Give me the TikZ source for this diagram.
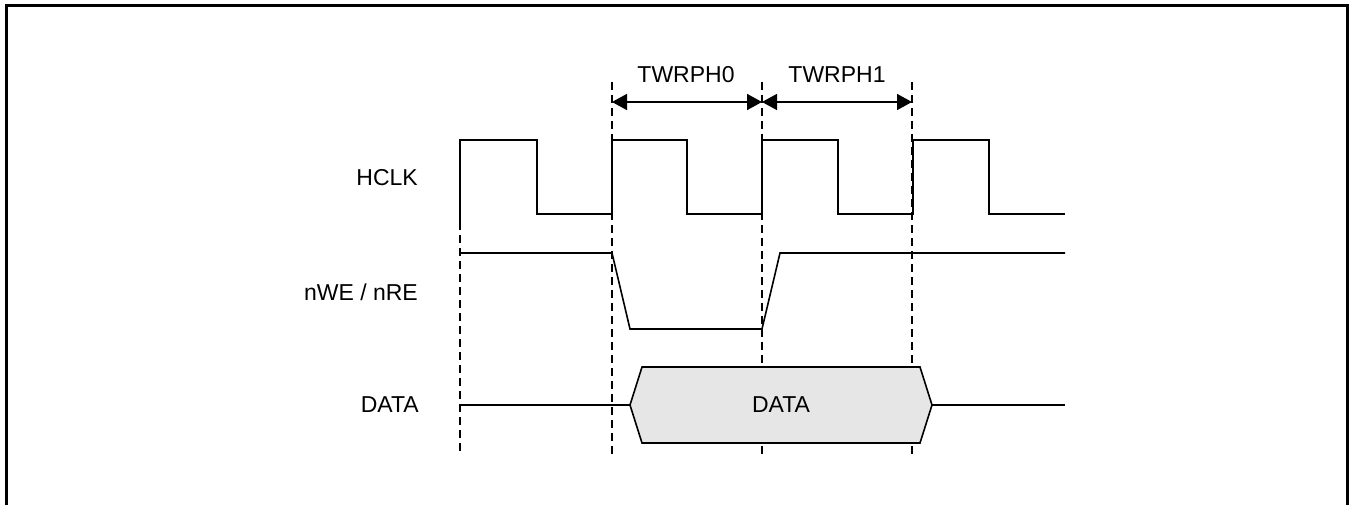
\documentclass[tikz,border=0pt]{standalone}
\usepackage{fontspec}
\setmainfont{Liberation Sans}
\usetikzlibrary{arrows.meta}
\begin{document}
\begin{tikzpicture}[x=1pt,y=-1pt,
  sig/.style={line width=1.6pt, line join=miter},
  guide/.style={line width=1.6pt, dash pattern=on 8pt off 5pt},
  dim/.style={line width=1.6pt, {Triangle[length=15pt,width=16pt]}-{Triangle[length=15pt,width=16pt]}},
  lbl/.style={font=\fontsize{23}{26}\selectfont, inner sep=0pt}]
\useasboundingbox (0,0) rectangle (1351,505);
\draw[line width=3pt] (6,506) -- (6,6) -- (1347.5,6) -- (1347.5,506);
% guides
\coordinate (g0t) at (460,222); \coordinate (g0b) at (460,455);
\coordinate (g1t) at (612,82);  \coordinate (g1b) at (612,455);
\coordinate (g2t) at (762,82);  \coordinate (g2b) at (762,455);
\coordinate (g3t) at (912,82);  \coordinate (g3b) at (912,455);
\draw[guide] (g0t) -- (g0b);
\draw[guide] (g1t) -- (g1b);
\draw[guide] (g2t) -- (g2b);
\draw[guide] (g3t) -- (g3b);
% dimension arrows
\coordinate (a1) at (612,102); \coordinate (a2) at (762,102); \coordinate (a3) at (912,102);
\draw[dim] (a1) -- (a2);
\draw[dim] (a2) -- (a3);
\node[lbl] (t0) at (686,75) {TWRPH0};
\node[lbl] (t1) at (837,75) {TWRPH1};
% labels
\node[lbl, anchor=east] (lh) at (418,178) {HCLK};
\node[lbl, anchor=east] (ln) at (418,292) {nWE / nRE};
\node[lbl, anchor=east] (ld) at (419,405) {DATA};
% HCLK
\draw[sig] (460,222) -- (460,140) -- (537,140) -- (537,214) -- (612,214)
  -- (612,140) -- (687,140) -- (687,214) -- (762,214)
  -- (762,140) -- (838,140) -- (838,214) -- (913,214)
  -- (913,140) -- (989,140) -- (989,214) -- (1065,214);
% nWE / nRE
\draw[sig] (460,253) -- (612,253) -- (630,329) -- (762,329) -- (780,253) -- (1065,253);
% DATA
\draw[sig] (460,405) -- (630,405);
\draw[sig, fill={rgb,255:red,230;green,230;blue,230}] (630,405) -- (642,367) -- (920,367) -- (932,405) -- (920,443) -- (642,443) -- cycle;
\draw[sig] (932,405) -- (1065,405);
\node[lbl] (dd) at (781,405) {DATA};
\end{tikzpicture}
\end{document}
